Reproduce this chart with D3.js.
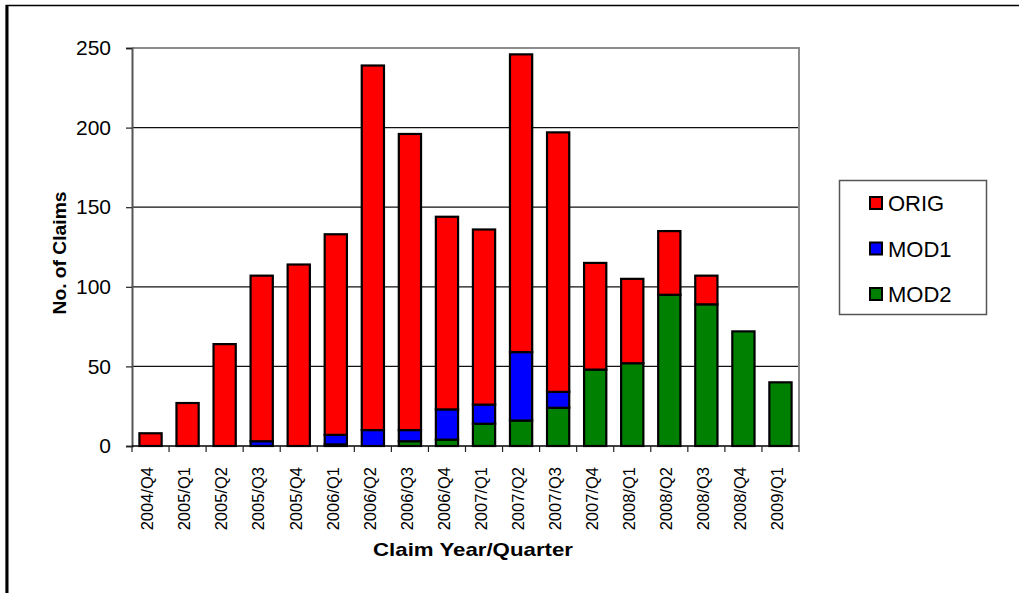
<!DOCTYPE html>
<html>
<head>
<meta charset="utf-8">
<script src="https://cdn.jsdelivr.net/npm/d3@7"></script>
<style>
  body { margin: 0; background: #fff; }
  svg { display: block; font-family: "Liberation Sans", Arial, sans-serif; }
</style>
</head>
<body>
<div id="chart"></div>
<script>
// claim quarters on the x axis
const quarters = ["2004/Q4","2005/Q1","2005/Q2","2005/Q3","2005/Q4","2006/Q1","2006/Q2","2006/Q3","2006/Q4",
                  "2007/Q1","2007/Q2","2007/Q3","2007/Q4","2008/Q1","2008/Q2","2008/Q3","2008/Q4","2009/Q1"];
// stacked series, bottom to top: MOD2, MOD1, ORIG
const mod2 = [0, 0, 0, 0, 0, 1, 0, 3, 4, 14, 16, 24, 48, 52, 95, 89, 72, 40];
const mod1 = [0, 0, 0, 3, 0, 6, 10, 7, 19, 12, 43, 10, 0, 0, 0, 0, 0, 0];
const orig = [8, 27, 64, 104, 114, 126, 229, 186, 121, 110, 187, 163, 67, 53, 40, 18, 0, 0];
const yTicks = [0, 50, 100, 150, 200, 250];
const seriesNames = ["ORIG", "MOD1", "MOD2"];
const seriesColors = {"ORIG": "#ff0000", "MOD1": "#0000ff", "MOD2": "#008000"};

const width = 1019, height = 593;
const plot = {left: 132, right: 799, top: 48, bottom: 446};

const rows = quarters.map((q, i) => ({quarter: q, MOD2: mod2[i], MOD1: mod1[i], ORIG: orig[i]}));

const svg = d3.select("#chart").append("svg")
  .attr("width", width)
  .attr("height", height);

// outer frame of the chart object
svg.append("rect")
  .attr("x", 6.5).attr("y", 5.5)
  .attr("width", width + 20).attr("height", height + 20)
  .attr("fill", "none").attr("stroke", "#000").attr("stroke-width", 1.5);
svg.append("line")
  .attr("x1", 7).attr("x2", 7).attr("y1", 5).attr("y2", height)
  .attr("stroke", "#000").attr("stroke-width", 3);

const xScale = d3.scaleBand()
  .domain(quarters)
  .range([plot.left, plot.right])
  .paddingInner(0.4)
  .paddingOuter(0.2);

const yScale = d3.scaleLinear()
  .domain([0, 250])
  .range([plot.bottom, plot.top]);

// horizontal grid lines
svg.append("g")
  .selectAll("line")
  .data(yTicks.filter(d => d > 0 && d < 250))
  .join("line")
    .attr("x1", plot.left).attr("x2", plot.right)
    .attr("y1", d => yScale(d)).attr("y2", d => yScale(d))
    .attr("stroke", "#111").attr("stroke-width", 1.2);

// plot area border (top and right)
svg.append("path")
  .attr("d", `M${plot.left},${plot.top}H${plot.right}V${plot.bottom}`)
  .attr("fill", "none").attr("stroke", "#8c8c8c").attr("stroke-width", 2);

// stacked bars
const stack = d3.stack().keys(["MOD2", "MOD1", "ORIG"]);
const layers = stack(rows);

svg.append("g")
  .selectAll("g")
  .data(layers)
  .join("g")
    .attr("fill", d => seriesColors[d.key])
  .selectAll("rect")
  .data(d => d.filter(s => s[1] - s[0] > 0))
  .join("rect")
    .attr("x", d => xScale(d.data.quarter))
    .attr("width", xScale.bandwidth())
    .attr("y", d => yScale(d[1]))
    .attr("height", d => yScale(d[0]) - yScale(d[1]))
    .attr("stroke", "#000")
    .attr("stroke-width", 2.2);

// left axis
const yAxis = svg.append("g")
  .attr("transform", `translate(${plot.left},0)`)
  .call(d3.axisLeft(yScale).tickValues(yTicks).tickSize(6).tickPadding(15));
yAxis.select(".domain").attr("stroke", "#555").attr("stroke-width", 2);
yAxis.selectAll(".tick line").attr("stroke", "#222").attr("stroke-width", 1.2);
yAxis.selectAll(".tick text")
  .attr("font-size", 21)
  .attr("font-family", "Liberation Sans, Arial, sans-serif")
  .attr("fill", "#000");

// bottom axis: ticks sit between the categories
const step = xScale.step();
const boundaries = d3.range(quarters.length + 1).map(i => plot.left + i * step);
const xAxis = svg.append("g");
xAxis.append("line")
  .attr("x1", plot.left).attr("x2", plot.right)
  .attr("y1", plot.bottom).attr("y2", plot.bottom)
  .attr("stroke", "#000").attr("stroke-width", 1.5);
xAxis.selectAll(".xtick")
  .data(boundaries)
  .join("line")
    .attr("class", "xtick")
    .attr("x1", d => d).attr("x2", d => d)
    .attr("y1", plot.bottom).attr("y2", plot.bottom + 6)
    .attr("stroke", "#222").attr("stroke-width", 1.2);
xAxis.selectAll(".xlabel")
  .data(quarters)
  .join("text")
    .attr("class", "xlabel")
    .attr("transform", d => `translate(${xScale(d) + xScale.bandwidth() / 2 - 3},${plot.bottom + 21}) rotate(-90)`)
    .attr("text-anchor", "end")
    .attr("dy", "0.35em")
    .attr("font-size", 16.5)
    .attr("fill", "#000")
    .text(d => d);

// axis titles
svg.append("text")
  .attr("x", 473).attr("y", 556)
  .attr("text-anchor", "middle")
  .attr("font-size", 19)
  .attr("font-weight", "bold")
  .attr("textLength", 200)
  .attr("lengthAdjust", "spacingAndGlyphs")
  .text("Claim Year/Quarter");
svg.append("text")
  .attr("transform", "translate(66,253) rotate(-90)")
  .attr("text-anchor", "middle")
  .attr("font-size", 19)
  .attr("font-weight", "bold")
  .attr("textLength", 123)
  .attr("lengthAdjust", "spacingAndGlyphs")
  .text("No. of Claims");

// legend
const legend = svg.append("g");
legend.append("rect")
  .attr("x", 839.5).attr("y", 180.5)
  .attr("width", 147).attr("height", 134)
  .attr("fill", "#fff").attr("stroke", "#555").attr("stroke-width", 1.5);
const items = legend.selectAll(".item")
  .data(seriesNames)
  .join("g")
    .attr("class", "item")
    .attr("transform", (d, i) => `translate(870,${197 + i * 45.5})`);
items.append("rect")
  .attr("width", 12).attr("height", 12)
  .attr("fill", d => seriesColors[d])
  .attr("stroke", "#000").attr("stroke-width", 2);
items.append("text")
  .attr("x", 18).attr("y", 14)
  .attr("font-size", 22)
  .attr("fill", "#000")
  .text(d => d);
</script>
</body>
</html>
